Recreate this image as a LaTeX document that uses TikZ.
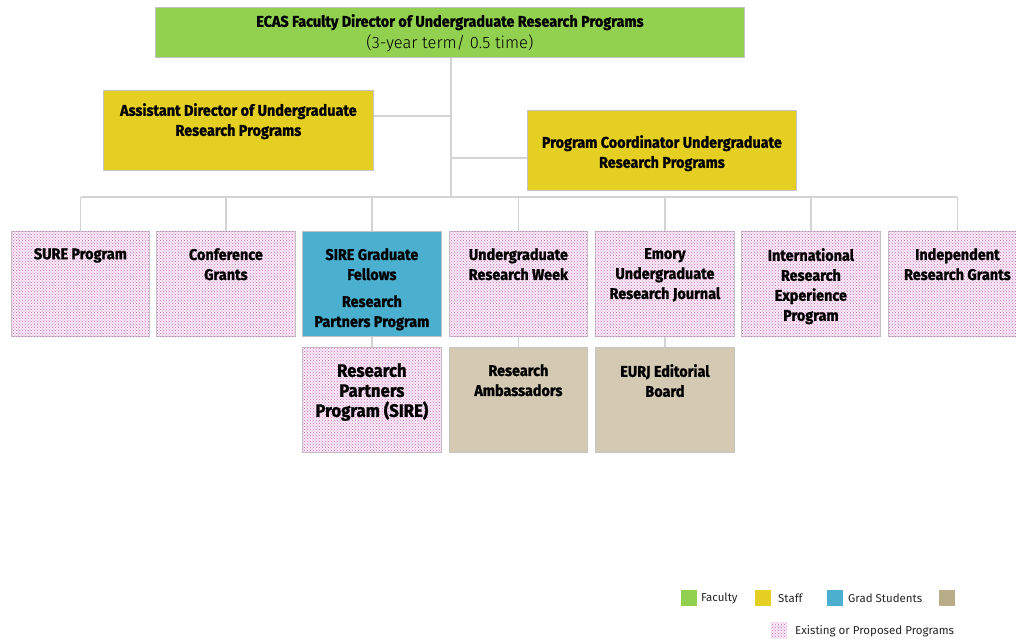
\documentclass[tikz,border=0pt]{standalone}
\usepackage{fontspec}
\setmainfont{Fira Sans}
\newfontfamily\boxfont[FakeStretch=0.93,FakeBold=1.2]{Fira Sans}
\newfontfamily\subfont{Fira Sans Light}
\usetikzlibrary{patterns}
\definecolor{faccol}{HTML}{92D050}
\definecolor{staffcol}{HTML}{E5CF22}
\definecolor{gradcol}{HTML}{4BB0CF}
\definecolor{tancol}{HTML}{D4CAB4}
\definecolor{tanleg}{HTML}{B9AC88}
\definecolor{dotcol}{HTML}{D066C0}
\definecolor{progfill}{HTML}{F8ECF6}
\definecolor{linecol}{HTML}{D4D4D4}
\definecolor{edgecol}{HTML}{C4C4C4}
\tikzset{
  boxbase/.style={draw=edgecol, line width=0.8pt, anchor=north west, inner sep=0pt},
  facbox/.style={boxbase, fill=faccol},
  staffbox/.style={boxbase, fill=staffcol},
  gradbox/.style={boxbase, fill=gradcol},
  tanbox/.style={boxbase, fill=tancol},
  progbox/.style={boxbase, fill=progfill, postaction={pattern=crosshatch dots, pattern color=dotcol}},
  lbl/.style={anchor=north, align=center, inner sep=0pt, font=\boxfont\bfseries\fontsize{15.5}{20}\selectfont, text=black},
  conn/.style={draw=linecol, line width=1.4pt},
  legtext/.style={anchor=west, inner sep=0pt, font=\fontsize{11.5}{13}\selectfont, text=black!85}
}
\begin{document}
\begin{tikzpicture}[x=1pt,y=-1pt]
\useasboundingbox (0,0) rectangle (1016,641);
% top
\node[facbox, minimum width=589pt, minimum height=50pt] (dir) at (155,7) {};
\node[lbl, font=\boxfont\fontsize{15.5}{22}\selectfont] (dirt) at ([yshift=-7pt]dir.north) {\textbf{ECAS Faculty Director of Undergraduate Research Programs}\\{\subfont\fontsize{16.5}{22}\selectfont (3-year term/ 0.5 time)}};
\node[staffbox, minimum width=270pt, minimum height=80pt] (asst) at (103,90) {};
\node[lbl] (asstt) at ([yshift=-13pt]asst.north) {Assistant Director of Undergraduate\\Research Programs};
\node[staffbox, minimum width=269pt, minimum height=80pt] (coord) at (527,110) {};
\node[lbl] (coordt) at ([yshift=-25pt]coord.north) {Program Coordinator Undergraduate\\Research Programs};
% row 1
\node[progbox, minimum width=138pt, minimum height=105pt] (b1) at (11,231) {};
\node[progbox, minimum width=139pt, minimum height=105pt] (b2) at (156,231) {};
\node[gradbox, minimum width=139pt, minimum height=105pt] (b3) at (302,231) {};
\node[progbox, minimum width=138pt, minimum height=105pt] (b4) at (449,231) {};
\node[progbox, minimum width=139pt, minimum height=105pt] (b5) at (595,231) {};
\node[progbox, minimum width=139pt, minimum height=105pt] (b6) at (741,231) {};
\node[progbox, minimum width=138pt, minimum height=105pt] (b7) at (888,231) {};
\node[lbl] (t1) at ([yshift=-17pt]b1.north) {SURE Program};
\node[lbl] (t2) at ([yshift=-17pt]b2.north) {Conference\\Grants};
\node[lbl] (t3) at ([yshift=-17pt]b3.north) {SIRE Graduate\\Fellows};
\node[lbl] (t3b) at ([yshift=-64pt]b3.north) {Research\\Partners Program};
\node[lbl] (t4) at ([yshift=-17pt]b4.north) {Undergraduate\\Research Week};
\node[lbl] (t5) at ([yshift=-17pt]b5.north) {Emory\\Undergraduate\\Research Journal};
\node[lbl] (t6) at ([yshift=-17pt]b6.north) {International\\Research\\Experience\\Program};
\node[lbl] (t7) at ([yshift=-17pt]b7.north) {Independent\\Research Grants};
% row 2
\node[progbox, minimum width=139pt, minimum height=105pt] (c3) at (302,347) {};
\node[tanbox, minimum width=138pt, minimum height=105pt] (c4) at (449,347) {};
\node[tanbox, minimum width=139pt, minimum height=105pt] (c5) at (595,347) {};
\node[lbl, font=\boxfont\bfseries\fontsize{18}{20}\selectfont] (u3) at ([yshift=-16pt]c3.north) {Research\\Partners\\Program (SIRE)};
\node[lbl] (u4) at ([yshift=-17pt]c4.north) {Research\\Ambassadors};
\node[lbl] (u5) at ([yshift=-17pt]c5.north) {EURJ Editorial\\Board};
% connectors
\coordinate (bus) at (451,197);
\coordinate (busL) at (80.5,197);
\coordinate (busR) at (957,197);
\draw[conn] (dir.south -| bus) -- (bus);
\draw[conn] (asst.east |- 0,116) -- (bus |- 0,116);
\draw[conn] (coord.west |- 0,158) -- (bus |- 0,158);
\draw[conn] (busL) -- (busR);
\foreach \b in {b1,b2,b3,b4,b5,b6,b7}{
  \draw[conn] (\b.north |- bus) -- (\b.north);
}
\draw[conn] (b3.south) -- (c3.north);
\draw[conn] (b4.south) -- (c4.north);
\draw[conn] (b5.south) -- (c5.north);
% legend
\node[fill=faccol, minimum size=16pt, inner sep=0pt, anchor=north west] (lf) at (681,590) {};
\node[legtext] (lft) at (701,598) {Faculty};
\node[fill=staffcol, minimum size=16pt, inner sep=0pt, anchor=north west] (ls) at (755,590) {};
\node[legtext] (lst) at (778,598) {Staff};
\node[fill=gradcol, minimum size=16pt, inner sep=0pt, anchor=north west] (lg) at (827,590) {};
\node[legtext] (lgt) at (848,598) {Grad Students};
\node[fill=tanleg, minimum size=16pt, inner sep=0pt, anchor=north west] (lt) at (939,590) {};
\node[fill=progfill, postaction={pattern=crosshatch dots, pattern color=dotcol}, minimum size=16pt, inner sep=0pt, anchor=north west] (lp) at (771,622) {};
\node[legtext] (lpt) at (795,631) {Existing or Proposed Programs};
\end{tikzpicture}
\end{document}
